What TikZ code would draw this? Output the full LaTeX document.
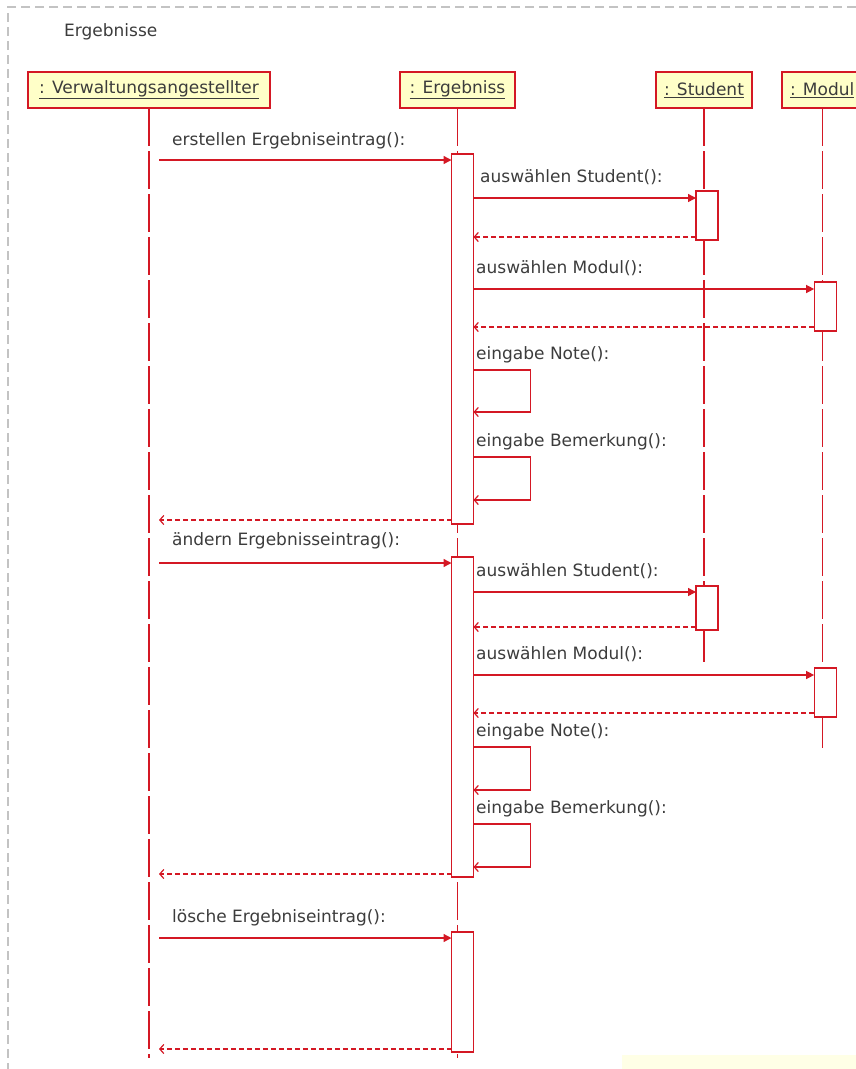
\documentclass[tikz,border=0pt]{standalone}
\usepackage{fontspec}
\setmainfont{DejaVu Sans}
\usetikzlibrary{arrows.meta, positioning}
\definecolor{umlred}{RGB}{212,24,36}
\definecolor{umlfill}{RGB}{255,255,200}
\definecolor{umltext}{RGB}{60,60,60}
\definecolor{framegray}{RGB}{195,195,195}
\tikzset{%
  x=1pt, y=-1pt, % pixel grid of the screenshot, y grows downwards
  every node/.style={font=\fontsize{17}{20}\selectfont, text=umltext},
  head/.style={draw=umlred, fill=umlfill, line width=1.2pt, minimum height=36pt, inner xsep=8pt, outer sep=0pt},
  lifeline/.style={draw=umlred, line width=1.2pt, dash pattern=on 38pt off 5pt},
  act/.style={draw=umlred, fill=white, line width=1.2pt, minimum width=22pt, inner sep=0pt, outer sep=0pt, anchor=north},
  call/.style={draw=umlred, line width=1.4pt, -{Triangle[length=8pt,width=8pt]}},
  reply/.style={draw=umlred, line width=1.2pt, dash pattern=on 5pt off 3pt, -{Straight Barb[length=4pt,width=9pt]}},
  selfcall/.style={draw=umlred, line width=1.2pt, -{Straight Barb[length=4pt,width=9pt]}},
  msg/.style={anchor=base west, inner sep=0pt}
}
\begin{document}
\begin{tikzpicture}
  \useasboundingbox (0,0) rectangle (856,1069);
  \clip (0,0) rectangle (856,1069);
  % frame of the diagram
  \draw[framegray, line width=1.5pt, dash pattern=on 9pt off 5pt] (856,7) -- (8,7) -- (8,1069);
  \node[anchor=base west, inner sep=0pt] (title) at (64,36) {Ergebnisse};
  \fill[umlfill!45] (622,1055) rectangle (856,1069);

  % objects
  \node[head, minimum width=242pt] (va) at (149,90) {\underline{: Verwaltungsangestellter}};
  \node[head, minimum width=115pt, right=130pt of va] (erg) {\underline{: Ergebniss}};
  \node[head, minimum width=96pt, right=141pt of erg] (stud) {\underline{: Student}};
  \node[head, minimum width=80pt, right=30pt of stud] (mod) {\underline{: Modul}};

  % lifelines
  \coordinate (va-end) at (va |- 0,1058);
  \coordinate (erg-end) at (erg |- 0,1058);
  \coordinate (stud-end) at (stud |- 0,662);
  \coordinate (mod-end) at (mod |- 0,750);
  \draw[lifeline] (va.south) -- (va-end);
  \draw[lifeline] (erg.south) -- (erg-end);
  \draw[lifeline] (stud.south) -- (stud-end);
  \draw[lifeline] (mod.south) -- (mod-end);
  \coordinate (vx) at ([xshift=10pt]va.south); % messages of the clerk start a bit off the line

  % activations (drawn a little right of their lifeline)
  \node[act, minimum height=370pt, xshift=5pt] (a1) at (erg |- 0,154) {};
  \node[act, minimum height=320pt, xshift=5pt] (a2) at (erg |- 0,557) {};
  \node[act, minimum height=120pt, xshift=5pt] (a3) at (erg |- 0,932) {};
  \node[act, minimum height=49pt, xshift=3pt] (s1) at (stud |- 0,191) {};
  \node[act, minimum height=44pt, xshift=3pt] (s2) at (stud |- 0,586) {};
  \node[act, minimum height=49pt, xshift=3pt] (m1) at (mod |- 0,282) {};
  \node[act, minimum height=49pt, xshift=3pt] (m2) at (mod |- 0,668) {};

  % erstellen
  \coordinate (k1) at (0,160);
  \draw[call] (vx |- k1) -- (a1.west |- k1);
  \node[msg] (l1) at (172,145) {erstellen Ergebniseintrag():};
  \coordinate (k2) at (0,198);
  \draw[call] (a1.east |- k2) -- (s1.west |- k2);
  \node[msg] (l2) at (480,182) {auswählen Student():};
  \coordinate (k3) at (0,237);
  \draw[reply] (s1.west |- k3) -- (a1.east |- k3);
  \coordinate (k4) at (0,289);
  \draw[call] (a1.east |- k4) -- (m1.west |- k4);
  \node[msg] (l3) at (476,273) {auswählen Modul():};
  \coordinate (k5) at (0,327);
  \draw[reply] (m1.west |- k5) -- (a1.east |- k5);
  \coordinate (k6) at (0,370);
  \draw[selfcall] (a1.east |- k6) -- ++(57,0) -- ++(0,42) -- ++(-57,0);
  \node[msg] (l4) at (476,359) {eingabe Note():};
  \coordinate (k7) at (0,457);
  \draw[selfcall] (a1.east |- k7) -- ++(57,0) -- ++(0,43) -- ++(-57,0);
  \node[msg] (l5) at (476,446) {eingabe Bemerkung():};
  \coordinate (k8) at (0,520);
  \draw[reply] (a1.west |- k8) -- (vx |- k8);

  % aendern
  \coordinate (k9) at (0,563);
  \draw[call] (vx |- k9) -- (a2.west |- k9);
  \node[msg] (l6) at (172,545) {ändern Ergebnisseintrag():};
  \coordinate (k10) at (0,592);
  \draw[call] (a2.east |- k10) -- (s2.west |- k10);
  \node[msg] (l7) at (476,576) {auswählen Student():};
  \coordinate (k11) at (0,627);
  \draw[reply] (s2.west |- k11) -- (a2.east |- k11);
  \coordinate (k12) at (0,675);
  \draw[call] (a2.east |- k12) -- (m2.west |- k12);
  \node[msg] (l8) at (476,659) {auswählen Modul():};
  \coordinate (k13) at (0,713);
  \draw[reply] (m2.west |- k13) -- (a2.east |- k13);
  \coordinate (k14) at (0,747);
  \draw[selfcall] (a2.east |- k14) -- ++(57,0) -- ++(0,43) -- ++(-57,0);
  \node[msg] (l9) at (476,736) {eingabe Note():};
  \coordinate (k15) at (0,824);
  \draw[selfcall] (a2.east |- k15) -- ++(57,0) -- ++(0,43) -- ++(-57,0);
  \node[msg] (l10) at (476,813) {eingabe Bemerkung():};
  \coordinate (k16) at (0,874);
  \draw[reply] (a2.west |- k16) -- (vx |- k16);

  % loeschen
  \coordinate (k17) at (0,938);
  \draw[call] (vx |- k17) -- (a3.west |- k17);
  \node[msg] (l11) at (172,922) {lösche Ergebniseintrag():};
  \coordinate (k18) at (0,1049);
  \draw[reply] (a3.west |- k18) -- (vx |- k18);
\end{tikzpicture}
\end{document}
